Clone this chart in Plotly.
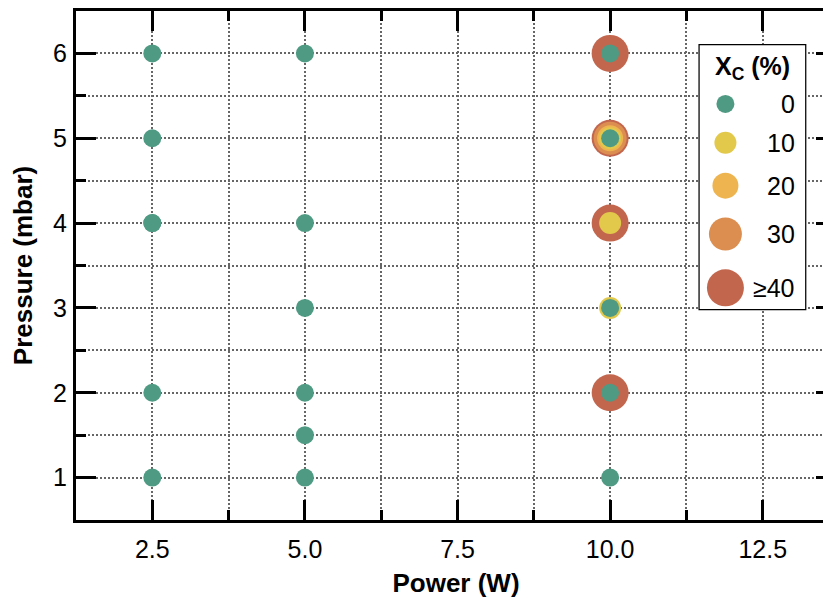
import plotly.graph_objects as go

# ---- data ----
power = [2.5, 2.5, 2.5, 2.5, 2.5, 2.5,
         5.0, 5.0, 5.0, 5.0, 5.0, 5.0,
         10.0, 10.0,
         10.0, 10.0, 10.0, 10.0, 10.0,
         10.0, 10.0,
         10.0, 10.0,
         10.0, 10.0,
         10.0]
pressure = [6, 5, 4, 4, 2, 1,
            6, 4, 3, 2, 1.5, 1,
            6, 6,
            5, 5, 5, 5, 5,
            4, 4,
            3, 3,
            2, 2,
            1]
xc = [0, 0, 0, 0, 0, 0,
      0, 0, 0, 0, 0, 0,
      40, 0,
      40, 30, 20, 10, 0,
      40, 10,
      10, 0,
      40, 0,
      0]

bins = [0, 10, 20, 30, 40]
bin_labels = ["0", "10", "20", "30", "\u226540"]
bin_colors = ["#4F9A83", "#E2C94B", "#EEB44F", "#DB8E50", "#C3664E"]
bin_sizes = [18, 22, 26, 33, 37]

x_ticks = [2.5, 5.0, 7.5, 10.0, 12.5]
y_ticks = [1, 2, 3, 4, 5, 6]

FONT = "Liberation Sans, Arial, sans-serif"
GRID = "#666666"
LEG_W, LEG_H = 108, 267

fig = go.Figure()

# main points: biggest bins first so smaller ones sit on top
for b, col, sz in reversed(list(zip(bins, bin_colors, bin_sizes))):
    xs = [p for p, c in zip(power, xc) if c == b]
    ys = [q for q, c in zip(pressure, xc) if c == b]
    fig.add_trace(go.Scatter(
        x=xs, y=ys, mode="markers",
        marker=dict(color=col, size=sz, opacity=1, line=dict(width=0)),
        showlegend=False, hoverinfo="skip", xaxis="x", yaxis="y"))

# legend box background (white, hides grid)
fig.add_trace(go.Scatter(
    x=[0, LEG_W, LEG_W, 0, 0], y=[0, 0, LEG_H, LEG_H, 0],
    mode="lines", fill="toself", fillcolor="white",
    line=dict(width=0, color="white"),
    showlegend=False, hoverinfo="skip", xaxis="x2", yaxis="y2"))

# custom legend markers
leg_x = 27
gap = 19
leg_y = [60]
for i in range(1, len(bin_sizes)):
    leg_y.append(leg_y[-1] + (bin_sizes[i - 1] + bin_sizes[i]) / 2 + gap)

fig.add_trace(go.Scatter(
    x=[leg_x] * len(bins), y=leg_y, mode="markers",
    marker=dict(color=bin_colors, size=bin_sizes, opacity=1, line=dict(width=0)),
    showlegend=False, hoverinfo="skip", xaxis="x2", yaxis="y2"))

for lab, yy in zip(bin_labels, leg_y):
    fig.add_annotation(x=99, y=yy, xref="x2", yref="y2", text=lab,
                       showarrow=False, xanchor="right", yanchor="middle",
                       font=dict(family=FONT, size=25, color="black"))
fig.add_annotation(x=54, y=24, xref="x2", yref="y2",
                   text="<b>X<sub>C</sub> (%)</b>",
                   showarrow=False, xanchor="center", yanchor="middle",
                   font=dict(family=FONT, size=25, color="black"))

fig.add_shape(type="rect", xref="x2", yref="y2",
              x0=0, x1=LEG_W, y0=0, y1=LEG_H,
              line=dict(color="black", width=2.5), layer="above")

minor_common = dict(ticks="inside", ticklen=10, tickwidth=3, tickcolor="black",
                    showgrid=True, gridcolor=GRID, gridwidth=1.5, griddash="2px,2px")

fig.update_layout(
    width=831, height=606,
    margin=dict(l=68, r=0, t=2, b=94),
    paper_bgcolor="white", plot_bgcolor="white",
    font=dict(family=FONT, size=25, color="black"),
    xaxis=dict(
        range=[1.25, 13.7], tickvals=x_ticks, tickformat=".1f",
        ticks="inside", ticklen=20, tickwidth=3, tickcolor="black",
        showline=True, linecolor="black", linewidth=3, mirror="allticks",
        showgrid=True, gridcolor=GRID, gridwidth=1.5, griddash="2px,2px",
        zeroline=False, ticklabelstandoff=5,
        minor=dict(dtick=1.25, tick0=0, **minor_common),
        title=dict(text="<b>Power (W)</b>", font=dict(family=FONT, size=26), standoff=12),
        tickfont=dict(family=FONT, size=25),
    ),
    yaxis=dict(
        range=[0.5, 6.5], tickvals=y_ticks,
        ticks="inside", ticklen=20, tickwidth=3, tickcolor="black",
        showline=True, linecolor="black", linewidth=3, mirror="allticks",
        showgrid=True, gridcolor=GRID, gridwidth=1.5, griddash="2px,2px",
        zeroline=False, ticklabelstandoff=1,
        minor=dict(dtick=0.5, tick0=0, **minor_common),
        title=dict(text="<b>Pressure (mbar)</b>", font=dict(family=FONT, size=26), standoff=14),
        tickfont=dict(family=FONT, size=25),
    ),
    xaxis2=dict(domain=[0.819, 0.961], range=[0, LEG_W], anchor="y2",
                visible=False, fixedrange=True),
    yaxis2=dict(domain=[0.412, 0.935], range=[LEG_H, 0], anchor="x2",
                visible=False, fixedrange=True),
)

fig.write_html("out.html")
